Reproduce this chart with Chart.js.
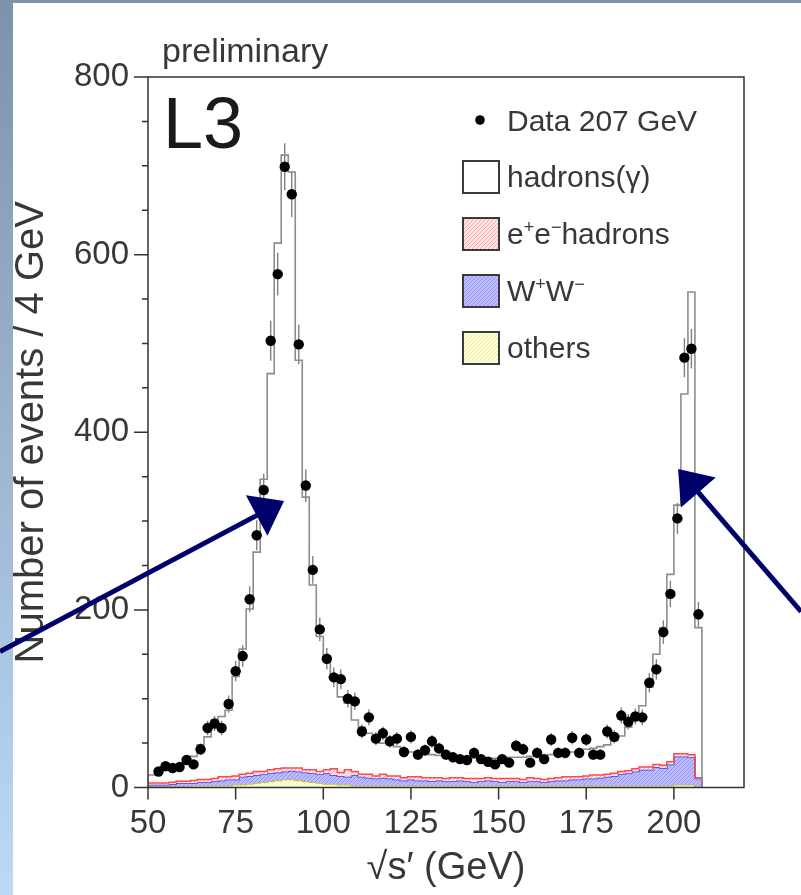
<!DOCTYPE html>
<html>
<head>
<meta charset="utf-8">
<script src="https://cdn.jsdelivr.net/npm/chart.js@4.4.0/dist/chart.umd.min.js"></script>
<style>
  html, body { margin: 0; padding: 0; }
  body { width: 801px; height: 895px; position: relative; overflow: hidden; background: #fff; }
  .band-top { position: absolute; left: 0; top: 0; width: 801px; height: 3px; background: #7f94ac; }
  .band-left { position: absolute; left: 0; top: 0; width: 13px; height: 895px; background: linear-gradient(#7d92ab, #bcd9f5); }
  #wrap { position: absolute; left: 0; top: 0; width: 801px; height: 895px; }
</style>
</head>
<body>
<div class="band-top"></div>
<div class="band-left"></div>
<div id="wrap"><canvas id="myChart" width="801" height="895"></canvas></div>
<script>
const ctx = document.querySelector("#myChart");

// centres of the 2 GeV bins in sqrt(s') (GeV)
const sqrtsPrime = [51, 53, 55, 57, 59, 61, 63, 65, 67, 69,
  71, 73, 75, 77, 79, 81, 83, 85, 87, 89,
  91, 93, 95, 97, 99, 101, 103, 105, 107, 109,
  111, 113, 115, 117, 119, 121, 123, 125, 127, 129,
  131, 133, 135, 137, 139, 141, 143, 145, 147, 149,
  151, 153, 155, 157, 159, 161, 163, 165, 167, 169,
  171, 173, 175, 177, 179, 181, 183, 185, 187, 189,
  191, 193, 195, 197, 199, 201, 203, 205, 207];

// measured events at 207 GeV
const dataCounts = [null, 18, 24, 22, 23, 31, 26, 43, 67, 72,
  67, 94, 131, 148, 212, 284, 335, 503, 578, 699,
  668, 499, 340, 245, 178, 145, 124, 122, 100, 97,
  63, 79, 55, 61, 52, 55, 40, 57, 37, 42,
  52, 44, 37, 34, 32, 31, 39, 32, 29, 26,
  32, 28, 47, 43, 28, 39, 32, 54, 39, 39,
  56, 39, 54, 37, 37, 63, 57, 81, 74, 80,
  79, 118, 133, 175, 218, 303, 484, 494, 195];

// full Monte Carlo expectation (hadrons(γ) on top of the backgrounds)
const mcTotal = [14, 16, 20, 22, 25, 31, 35, 48, 57, 76,
  80, 87, 125, 156, 201, 265, 347, 466, 613, 712,
  693, 481, 327, 228, 170, 143, 123, 102, 95, 76,
  68, 61, 55, 50, 48, 46, 42, 40, 39, 38,
  37, 36, 35, 34, 34, 33, 33, 33, 33, 33,
  33, 34, 34, 34, 35, 35, 36, 37, 38, 39,
  40, 41, 43, 44, 46, 48, 53, 58, 68, 80,
  92, 113, 150, 180, 240, 318, 443, 558, 180];

// backgrounds
const eeHadrons = [2, 2, 2, 2, 2, 2, 3, 3, 3, 3,
  4, 3, 4, 3, 3, 4, 3, 4, 4, 4,
  3, 4, 3, 4, 3, 4, 7, 4, 8, 4,
  3, 4, 3, 4, 3, 4, 3, 3, 4, 3,
  4, 3, 3, 4, 3, 3, 4, 3, 3, 3,
  4, 3, 3, 3, 4, 3, 3, 3, 3, 4,
  3, 3, 3, 4, 3, 3, 3, 3, 3, 3,
  3, 3, 3, 3, 3, 3, 3, 3, 1];

const wPairs = [2, 2, 2, 3, 4, 4, 3, 4, 4, 5,
  6, 7, 6, 9, 9, 9, 9, 9, 9, 9,
  10, 10, 10, 10, 10, 12, 10, 10, 9, 12,
  10, 9, 8, 9, 8, 7, 6, 7, 6, 6,
  5, 6, 5, 5, 6, 5, 4, 5, 6, 5,
  4, 5, 5, 4, 5, 5, 4, 5, 6, 6,
  7, 7, 8, 8, 9, 10, 11, 13, 14, 16,
  18, 18, 21, 20, 24, 32, 32, 31, 9];

const others = [1, 1, 1, 1, 1, 1, 2, 2, 2, 2,
  2, 2, 3, 3, 4, 5, 6, 7, 8, 9,
  9, 8, 7, 6, 5, 4, 4, 3, 3, 2,
  2, 2, 2, 2, 2, 2, 2, 2, 2, 2,
  2, 2, 2, 2, 2, 2, 2, 2, 2, 2,
  2, 2, 2, 2, 2, 2, 2, 2, 2, 2,
  2, 2, 2, 2, 2, 2, 2, 2, 2, 2,
  2, 2, 2, 2, 2, 3, 3, 3, 1];

const binWidth = 2;
const xTicks = [50, 75, 100, 125, 150, 175, 200];
const yTicks = [0, 200, 400, 600, 800];
const yMinorTicks = [50, 100, 150, 250, 300, 350, 450, 500, 550, 650, 700, 750];

// annotation arrows, in axis units
const arrows = [
  { from: [7.8, 153], to: [88.8, 322.6] },
  { from: [236.3, 198], to: [201.2, 358.7] }
];

const FONT = "'Liberation Sans', Arial, Helvetica, sans-serif";
const TEXT = '#383838';
Chart.defaults.font.family = FONT;

// stacked sums for the filled backgrounds
const sumOthers = others.slice();
const sumWW = sumOthers.map((v, i) => v + wPairs[i]);
const sumEE = sumWW.map((v, i) => v + eeHadrons[i]);

// turn bin contents into a closed step outline
function histo(values) {
  const last = sqrtsPrime.length - 1;
  const pts = [{ x: sqrtsPrime[0] - binWidth / 2, y: 0 }];
  sqrtsPrime.forEach((c, i) => pts.push({ x: c - binWidth / 2, y: values[i] }));
  pts.push({ x: sqrtsPrime[last] + binWidth / 2, y: values[last] });
  pts.push({ x: sqrtsPrime[last] + binWidth / 2, y: 0 });
  return pts;
}

function hatch(bg, ink, diagonal) {
  const c = document.createElement('canvas');
  c.width = 4; c.height = 4;
  const g = c.getContext('2d');
  g.fillStyle = bg;
  g.fillRect(0, 0, 4, 4);
  g.fillStyle = ink;
  if (diagonal) {
    g.fillRect(0, 3, 1, 1); g.fillRect(1, 2, 1, 1); g.fillRect(2, 1, 1, 1); g.fillRect(3, 0, 1, 1);
  } else {
    g.fillRect(0, 0, 1, 1); g.fillRect(2, 2, 1, 1); g.fillRect(1, 3, 1, 1); g.fillRect(3, 1, 1, 1);
  }
  return g.createPattern(c, 'repeat');
}

const fillEE = hatch('#ffe6e6', '#ffa8a8', false);
const fillWW = hatch('#bcbcff', '#9494f0', false);
const fillOthers = hatch('#ffffd6', '#eeeea8', true);

// text with raised +/- signs
function richText(c, x, y, parts, size) {
  parts.forEach(p => {
    if (p.sup) {
      c.font = (size * 0.6) + 'px ' + FONT;
      c.fillText(p.t, x, y - size * 0.38);
    } else {
      c.font = size + 'px ' + FONT;
      c.fillText(p.t, x, y);
    }
    x += c.measureText(p.t).width;
  });
}

const decor = {
  id: 'decor',
  beforeDatasetsDraw(chart) {
    // statistical error bars on the data
    const { ctx: c, scales: { x, y } } = chart;
    c.save();
    c.strokeStyle = '#808080';
    c.lineWidth = 1.4;
    sqrtsPrime.forEach((e, i) => {
      const n = dataCounts[i];
      if (n == null) return;
      const px = x.getPixelForValue(e);
      c.beginPath();
      c.moveTo(px, y.getPixelForValue(n - Math.sqrt(n)));
      c.lineTo(px, y.getPixelForValue(n + Math.sqrt(n)));
      c.stroke();
    });
    c.restore();
  },
  afterDraw(chart) {
    const { ctx: c, chartArea: a, scales: { x, y } } = chart;
    c.save();

    // frame and tick marks
    c.strokeStyle = '#333';
    c.lineWidth = 1.5;
    c.strokeRect(a.left, a.top, a.right - a.left, a.bottom - a.top);
    c.beginPath();
    yTicks.forEach(v => { const p = y.getPixelForValue(v); c.moveTo(a.left - 14, p); c.lineTo(a.left, p); });
    yMinorTicks.forEach(v => { const p = y.getPixelForValue(v); c.moveTo(a.left - 6, p); c.lineTo(a.left, p); });
    xTicks.forEach(v => { const p = x.getPixelForValue(v); c.moveTo(p, a.bottom); c.lineTo(p, a.bottom + 12); });
    c.stroke();

    // headers
    c.fillStyle = TEXT;
    c.textBaseline = 'alphabetic';
    c.textAlign = 'left';
    c.font = '34px ' + FONT;
    c.fillText('preliminary', a.left + 14, a.top - 15);
    c.fillStyle = '#1a1a1a';
    c.font = '72px ' + FONT;
    c.fillText('L3', a.left + 15, a.top + 71);

    // legend
    const bx = a.left + 315, tx = a.left + 359;
    c.fillStyle = '#000';
    c.beginPath();
    c.arc(bx + 17, a.top + 43, 4.8, 0, Math.PI * 2);
    c.fill();
    c.fillStyle = TEXT;
    c.font = '30px ' + FONT;
    c.fillText('Data 207 GeV', tx, a.top + 54);

    const rows = [
      { fill: '#fff', parts: [{ t: 'hadrons(γ)' }] },
      { fill: fillEE, parts: [{ t: 'e' }, { t: '+', sup: true }, { t: 'e' }, { t: '−', sup: true }, { t: 'hadrons' }] },
      { fill: fillWW, parts: [{ t: 'W' }, { t: '+', sup: true }, { t: 'W' }, { t: '−', sup: true }] },
      { fill: fillOthers, parts: [{ t: 'others' }] }
    ];
    rows.forEach((r, i) => {
      const top = a.top + 84 + i * 57;
      c.fillStyle = r.fill;
      c.fillRect(bx, top, 36, 32);
      c.strokeStyle = '#3a3a3a';
      c.lineWidth = 2;
      c.strokeRect(bx, top, 36, 32);
      c.fillStyle = TEXT;
      richText(c, tx, top + 26, r.parts, 30);
    });

    // arrows
    c.strokeStyle = '#00006b';
    c.fillStyle = '#00006b';
    c.lineWidth = 5;
    arrows.forEach(ar => {
      const x0 = x.getPixelForValue(ar.from[0]), y0 = y.getPixelForValue(ar.from[1]);
      const x1 = x.getPixelForValue(ar.to[0]), y1 = y.getPixelForValue(ar.to[1]);
      const len = Math.hypot(x1 - x0, y1 - y0);
      const ux = (x1 - x0) / len, uy = (y1 - y0) / len;
      const hl = 31, hw = 23;
      const mx = x1 - ux * hl, my = y1 - uy * hl;
      c.beginPath();
      c.moveTo(x0, y0);
      c.lineTo(mx + ux * 4, my + uy * 4);
      c.stroke();
      c.beginPath();
      c.moveTo(x1, y1);
      c.lineTo(mx - uy * hw, my + ux * hw);
      c.lineTo(mx + uy * hw, my - ux * hw);
      c.closePath();
      c.fill();
    });
    c.restore();
  }
};

new Chart(ctx, {
  type: 'line',
  data: {
    datasets: [
      { label: 'others', data: histo(sumOthers), stepped: true, borderColor: '#c8c41a', borderWidth: 1.5,
        backgroundColor: fillOthers, fill: 'origin', pointRadius: 0, order: 4 },
      { label: 'W+W-', data: histo(sumWW), stepped: true, borderColor: '#3a3aff', borderWidth: 1.5,
        backgroundColor: fillWW, fill: '-1', pointRadius: 0, order: 3 },
      { label: 'e+e-hadrons', data: histo(sumEE), stepped: true, borderColor: '#ff4a4a', borderWidth: 1.5,
        backgroundColor: fillEE, fill: '-1', pointRadius: 0, order: 2 },
      { label: 'hadrons(γ)', data: histo(mcTotal), stepped: true, borderColor: '#8c8c8c', borderWidth: 1.6,
        fill: false, pointRadius: 0, order: 1 },
      { label: 'Data 207 GeV', data: sqrtsPrime.map((e, i) => ({ x: e, y: dataCounts[i] })), showLine: false,
        pointRadius: 5.2, pointBackgroundColor: '#000', pointBorderColor: '#000', pointBorderWidth: 0, order: 0 }
    ]
  },
  options: {
    responsive: false,
    animation: false,
    devicePixelRatio: 1,
    layout: { padding: { top: 77, right: 57, left: 0, bottom: 0 } },
    plugins: { legend: { display: false }, tooltip: { enabled: false } },
    scales: {
      x: {
        type: 'linear', min: 50, max: 220,
        grid: { display: false, drawTicks: false },
        border: { display: false },
        afterFit: s => { s.height = 107.5; },
        afterBuildTicks: s => { s.ticks = xTicks.map(v => ({ value: v })); },
        ticks: { padding: 17, autoSkip: false, maxRotation: 0, color: TEXT, font: { size: 33 } },
        title: { display: true, text: '√s′ (GeV)', color: TEXT, font: { size: 38 }, padding: { bottom: 4 } }
      },
      y: {
        min: 0, max: 800,
        grid: { display: false, drawTicks: false },
        border: { display: false },
        afterFit: s => { s.width = 148; },
        afterBuildTicks: s => { s.ticks = yTicks.map(v => ({ value: v })); },
        ticks: { padding: 19, color: TEXT, font: { size: 33 } },
        title: { display: true, text: 'Number of events / 4 GeV', color: TEXT, font: { size: 40 }, padding: { top: 8 } }
      }
    }
  },
  plugins: [decor]
});
</script>
</body>
</html>
